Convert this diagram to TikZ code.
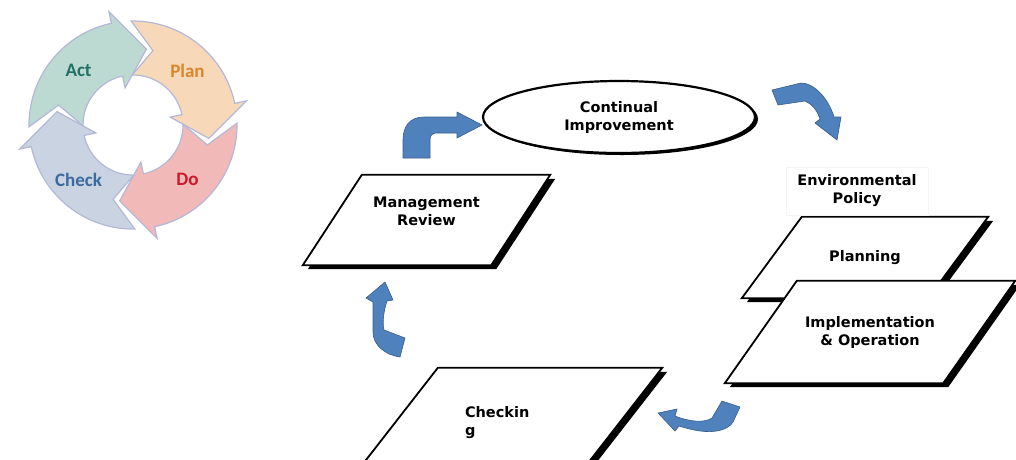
\documentclass[tikz,border=0pt]{standalone}
\usepackage{fontspec}
\setmainfont{DejaVu Sans}
\newfontfamily\pdcafont{Carlito}
\usetikzlibrary{shapes.geometric,shadows,backgrounds}
\definecolor{actfill}{RGB}{188,217,210}
\definecolor{acttext}{RGB}{31,114,100}
\definecolor{planfill}{RGB}{247,217,185}
\definecolor{plantext}{RGB}{217,134,42}
\definecolor{dofill}{RGB}{242,185,185}
\definecolor{dotext}{RGB}{204,26,42}
\definecolor{checkfill}{RGB}{201,211,226}
\definecolor{checktext}{RGB}{59,106,160}
\definecolor{ringline}{RGB}{180,184,216}
\definecolor{arrowblue}{RGB}{79,129,189}
\definecolor{arrowline}{RGB}{56,93,138}

\begin{document}
\begin{tikzpicture}[x=1pt,y=-1pt]
\tikzset{para/.style = {inner sep=0pt, align=center, font=\bfseries\fontsize{14.5}{18}\selectfont}}
\tikzset{paraframe/.style = {draw, line width=1.8pt, fill=white, drop shadow={shadow xshift=5pt, shadow yshift=-4pt, fill=black, opacity=1}}}
\tikzset{bluearrow/.style = {fill=arrowblue, draw=arrowline, line width=0.6pt}}
\tikzset{ring/.style = {draw=ringline, line width=1.2pt}}
\useasboundingbox (0,0) rectangle (1016,459);
\clip (0,0) rectangle (1016,459);
% PDCA cycle
\begin{scope}[shift={(133,125)}, yscale=-1]
\foreach \t/\c/\tc/\n/\lab in {80/actfill/acttext/act/Act, -10/planfill/plantext/plan/Plan, -100/dofill/dotext/do/Do, 170/checkfill/checktext/check/Check}
{
\filldraw[ring, fill=\c] ({\t+101}:104) arc[start angle=\t+101, end angle=\t+22, radius=104] -- ({\t+22}:116) -- (\t:77) -- ({\t+22}:38) -- ({\t+22}:50) arc[start angle=\t+22, end angle=\t+101, radius=50] -- ({\t+85}:77) -- cycle;
\node[text=\tc, font=\pdcafont\bfseries\fontsize{19}{22}\selectfont] (\n) at ({\t+55}:77) {\lab};
}
\end{scope}
% EMS loop
\node[ellipse, draw, line width=2.2pt, fill=white, minimum width=272pt, minimum height=72pt, align=center, font=\bfseries\fontsize{14.5}{18}\selectfont, drop shadow={shadow xshift=3pt, shadow yshift=-2pt, fill=black, opacity=1}] (improve) at (619,117) {Continual\\Improvement};
\node[draw=black!4, minimum width=142pt, minimum height=48pt, align=center, font=\bfseries\fontsize{14.5}{18}\selectfont] (policy) at (857,191) {Environmental\\Policy};
\node[para, minimum width=247pt, minimum height=90pt] (review) at (426.5,220) {Management\\Review\\\mbox{}};
\node[para, minimum width=246pt, minimum height=81pt] (planning) at (865,257.5) {Planning};
\node[para, minimum width=290pt, minimum height=102pt] (impl) at (870,332) {Implementation\\ \& Operation};
\node[para, minimum width=310pt, minimum height=110pt, text width=84pt, align=left] (checking) at (507,423) {Checkin\\g};
\begin{scope}[on background layer]
\foreach \n/\s in {review/59, planning/60, impl/72, checking/86}
\draw[paraframe] ([xshift=\s]\n.north west) -- (\n.north east) -- ([xshift=-\s]\n.south east) -- (\n.south west) -- cycle;
\end{scope}
% block arrows
\filldraw[bluearrow] (403,158) -- (403,140) .. controls (403,126) and (410,117) .. (424,117) -- (457,117) -- (457,112) -- (482,125) -- (457,138) -- (457,133) -- (436,133) .. controls (432,133) and (430,136) .. (430,140) -- (430,158) -- cycle;
\filldraw[bluearrow] (772,90) -- (778,105) -- (805,101) .. controls (812,104) and (817,110) .. (820,119) -- (815,123) -- (837,140) -- (841,117) -- (834,117) .. controls (829,100) and (815,83) .. (801,83) -- cycle;
\filldraw[bluearrow] (658,413) -- (677,409) -- (675,416) .. controls (690,422) and (705,423) .. (712,418) -- (722,401) -- (740,407) -- (733,422) .. controls (728,430) and (715,433) .. (700,431) .. controls (693,430) and (685,428) .. (679,426) -- (675,431) -- cycle;
\filldraw[bluearrow] (385,282) -- (393,300) -- (387,301) .. controls (384,310) and (382,322) .. (384,330) -- (405,338) -- (400,357) .. controls (385,355) and (373,345) .. (373,332) .. controls (373,320) and (373,310) .. (373,302) -- (366,298) -- cycle;
\end{tikzpicture}
\end{document}
